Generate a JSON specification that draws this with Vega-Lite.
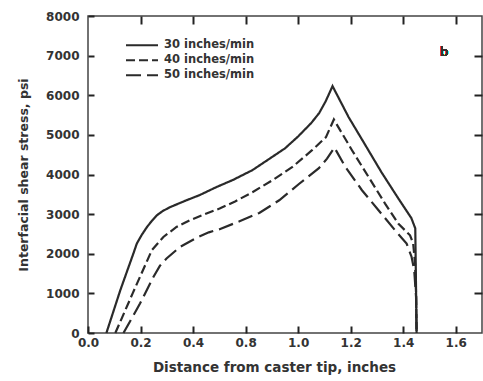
{
  "$schema": "https://vega.github.io/schema/vega-lite/v6.json",
  "width": 394,
  "height": 317,
  "autosize": {"type": "none"},
  "padding": {"left": 88, "top": 16, "right": 1, "bottom": 48},
  "background": "white",
  "config": {
    "view": {"stroke": "#444", "strokeWidth": 1.5},
    "font": "DejaVu Sans",
    "axis": {
      "grid": false,
      "domain": false,
      "ticks": true,
      "zindex": 1,
      "labelFlush": false,
      "labelFont": "DejaVu Sans",
      "labelFontSize": 12,
      "labelFontWeight": "bold",
      "labelColor": "#333",
      "titleFont": "DejaVu Sans",
      "titleFontWeight": "bold",
      "titleColor": "#333",
      "tickColor": "#222",
      "tickWidth": 2
    },
    "legend": {
      "labelFont": "DejaVu Sans",
      "labelFontSize": 11.5,
      "labelFontWeight": "bold",
      "labelColor": "#333"
    }
  },
  "data": {
    "values": [
      {"x": 0.070, "stress": 0, "speed": "30 inches/min"},
      {"x": 0.123, "stress": 1080, "speed": "30 inches/min"},
      {"x": 0.173, "stress": 2010, "speed": "30 inches/min"},
      {"x": 0.186, "stress": 2260, "speed": "30 inches/min"},
      {"x": 0.205, "stress": 2480, "speed": "30 inches/min"},
      {"x": 0.224, "stress": 2670, "speed": "30 inches/min"},
      {"x": 0.243, "stress": 2830, "speed": "30 inches/min"},
      {"x": 0.262, "stress": 2970, "speed": "30 inches/min"},
      {"x": 0.285, "stress": 3080, "speed": "30 inches/min"},
      {"x": 0.312, "stress": 3175, "speed": "30 inches/min"},
      {"x": 0.375, "stress": 3350, "speed": "30 inches/min"},
      {"x": 0.425, "stress": 3480, "speed": "30 inches/min"},
      {"x": 0.488, "stress": 3680, "speed": "30 inches/min"},
      {"x": 0.551, "stress": 3860, "speed": "30 inches/min"},
      {"x": 0.626, "stress": 4110, "speed": "30 inches/min"},
      {"x": 0.678, "stress": 4340, "speed": "30 inches/min"},
      {"x": 0.750, "stress": 4660, "speed": "30 inches/min"},
      {"x": 0.800, "stress": 4960, "speed": "30 inches/min"},
      {"x": 0.850, "stress": 5300, "speed": "30 inches/min"},
      {"x": 0.880, "stress": 5550, "speed": "30 inches/min"},
      {"x": 0.905, "stress": 5850, "speed": "30 inches/min"},
      {"x": 0.931, "stress": 6230, "speed": "30 inches/min"},
      {"x": 0.992, "stress": 5450, "speed": "30 inches/min"},
      {"x": 1.056, "stress": 4740, "speed": "30 inches/min"},
      {"x": 1.117, "stress": 4060, "speed": "30 inches/min"},
      {"x": 1.181, "stress": 3400, "speed": "30 inches/min"},
      {"x": 1.231, "stress": 2900, "speed": "30 inches/min"},
      {"x": 1.246, "stress": 2640, "speed": "30 inches/min"},
      {"x": 1.251, "stress": 0, "speed": "30 inches/min"},

      {"x": 0.104, "stress": 0, "speed": "40 inches/min"},
      {"x": 0.170, "stress": 1000, "speed": "40 inches/min"},
      {"x": 0.243, "stress": 2088, "speed": "40 inches/min"},
      {"x": 0.287, "stress": 2424, "speed": "40 inches/min"},
      {"x": 0.337, "stress": 2676, "speed": "40 inches/min"},
      {"x": 0.388, "stress": 2846, "speed": "40 inches/min"},
      {"x": 0.451, "stress": 3015, "speed": "40 inches/min"},
      {"x": 0.501, "stress": 3141, "speed": "40 inches/min"},
      {"x": 0.560, "stress": 3320, "speed": "40 inches/min"},
      {"x": 0.626, "stress": 3553, "speed": "40 inches/min"},
      {"x": 0.702, "stress": 3856, "speed": "40 inches/min"},
      {"x": 0.777, "stress": 4184, "speed": "40 inches/min"},
      {"x": 0.853, "stress": 4613, "speed": "40 inches/min"},
      {"x": 0.906, "stress": 4942, "speed": "40 inches/min"},
      {"x": 0.936, "stress": 5388, "speed": "40 inches/min"},
      {"x": 1.005, "stress": 4613, "speed": "40 inches/min"},
      {"x": 1.068, "stress": 3939, "speed": "40 inches/min"},
      {"x": 1.131, "stress": 3267, "speed": "40 inches/min"},
      {"x": 1.181, "stress": 2762, "speed": "40 inches/min"},
      {"x": 1.226, "stress": 2467, "speed": "40 inches/min"},
      {"x": 1.238, "stress": 2257, "speed": "40 inches/min"},
      {"x": 1.245, "stress": 1760, "speed": "40 inches/min"},
      {"x": 1.249, "stress": 1000, "speed": "40 inches/min"},
      {"x": 1.251, "stress": 0, "speed": "40 inches/min"},

      {"x": 0.135, "stress": 0, "speed": "50 inches/min"},
      {"x": 0.198, "stress": 742, "speed": "50 inches/min"},
      {"x": 0.249, "stress": 1414, "speed": "50 inches/min"},
      {"x": 0.274, "stress": 1700, "speed": "50 inches/min"},
      {"x": 0.299, "stress": 1880, "speed": "50 inches/min"},
      {"x": 0.350, "stress": 2170, "speed": "50 inches/min"},
      {"x": 0.413, "stress": 2400, "speed": "50 inches/min"},
      {"x": 0.460, "stress": 2540, "speed": "50 inches/min"},
      {"x": 0.501, "stress": 2620, "speed": "50 inches/min"},
      {"x": 0.577, "stress": 2820, "speed": "50 inches/min"},
      {"x": 0.652, "stress": 3030, "speed": "50 inches/min"},
      {"x": 0.728, "stress": 3350, "speed": "50 inches/min"},
      {"x": 0.803, "stress": 3760, "speed": "50 inches/min"},
      {"x": 0.879, "stress": 4160, "speed": "50 inches/min"},
      {"x": 0.910, "stress": 4400, "speed": "50 inches/min"},
      {"x": 0.938, "stress": 4680, "speed": "50 inches/min"},
      {"x": 0.980, "stress": 4192, "speed": "50 inches/min"},
      {"x": 1.043, "stress": 3603, "speed": "50 inches/min"},
      {"x": 1.106, "stress": 3098, "speed": "50 inches/min"},
      {"x": 1.169, "stress": 2593, "speed": "50 inches/min"},
      {"x": 1.213, "stress": 2257, "speed": "50 inches/min"},
      {"x": 1.232, "stress": 1919, "speed": "50 inches/min"},
      {"x": 1.242, "stress": 1583, "speed": "50 inches/min"},
      {"x": 1.249, "stress": 900, "speed": "50 inches/min"},
      {"x": 1.251, "stress": 0, "speed": "50 inches/min"}
    ]
  },
  "layer": [
    {
      "mark": {"type": "line", "color": "#2a2a2a", "strokeWidth": 2.2},
      "encoding": {
        "x": {
          "field": "x", "type": "quantitative",
          "scale": {"domain": [0, 1.5], "nice": false, "zero": false},
          "axis": {
            "orient": "bottom",
            "values": [0, 0.2, 0.4, 0.6, 0.8, 1.0, 1.2, 1.4],
            "labelExpr": "datum.value < 0.5 ? format(datum.value, '.1f') : format(datum.value + 0.2, '.1f')",
            "labelOverlap": false,
            "labelFlush": false,
            "offset": -7,
            "tickSize": 7,
            "labelPadding": 4,
            "title": "Distance from caster tip, inches",
            "titleFontSize": 13.5,
            "titlePadding": 12,
            "titleX": 186
          }
        },
        "y": {
          "field": "stress", "type": "quantitative",
          "scale": {"domain": [0, 8000], "nice": false},
          "axis": {
            "orient": "left",
            "values": [0, 1000, 2000, 3000, 4000, 5000, 6000, 7000, 8000],
            "format": "d",
            "labelOverlap": false,
            "labelFlush": false,
            "offset": -6,
            "tickSize": 6,
            "labelPadding": 9,
            "title": "Interfacial shear stress, psi",
            "titleFontSize": 12.5,
            "titlePadding": 15
          }
        },
        "strokeDash": {
          "field": "speed", "type": "nominal",
          "scale": {
            "domain": ["30 inches/min", "40 inches/min", "50 inches/min"],
            "range": [[1, 0], [9, 4], [15, 6]]
          },
          "legend": {
            "orient": "none",
            "legendX": 37,
            "legendY": 22,
            "title": null,
            "symbolType": "stroke",
            "symbolSize": 1024,
            "symbolStrokeWidth": 2,
            "symbolStrokeColor": "#2a2a2a",
            "labelOffset": 5,
            "clipHeight": 14.5,
            "rowPadding": 0
          }
        }
      }
    },
    {
      "mark": {"type": "text", "text": "b", "font": "DejaVu Sans", "fontSize": 13, "color": "#333"},
      "encoding": {
        "x": {
          "datum": 1.356, "type": "quantitative",
          "axis": {
            "orient": "top",
            "values": [0.2, 0.4, 0.6, 0.8, 1.0, 1.2, 1.4],
            "labels": false,
            "offset": -8,
            "tickSize": 8,
            "title": null
          }
        },
        "y": {
          "datum": 7100, "type": "quantitative",
          "axis": {
            "orient": "right",
            "values": [1000, 2000, 3000, 4000, 5000, 6000, 7000],
            "labels": false,
            "offset": -8,
            "tickSize": 8,
            "title": null
          }
        }
      }
    }
  ],
  "resolve": {"axis": {"x": "independent", "y": "independent"}}
}
